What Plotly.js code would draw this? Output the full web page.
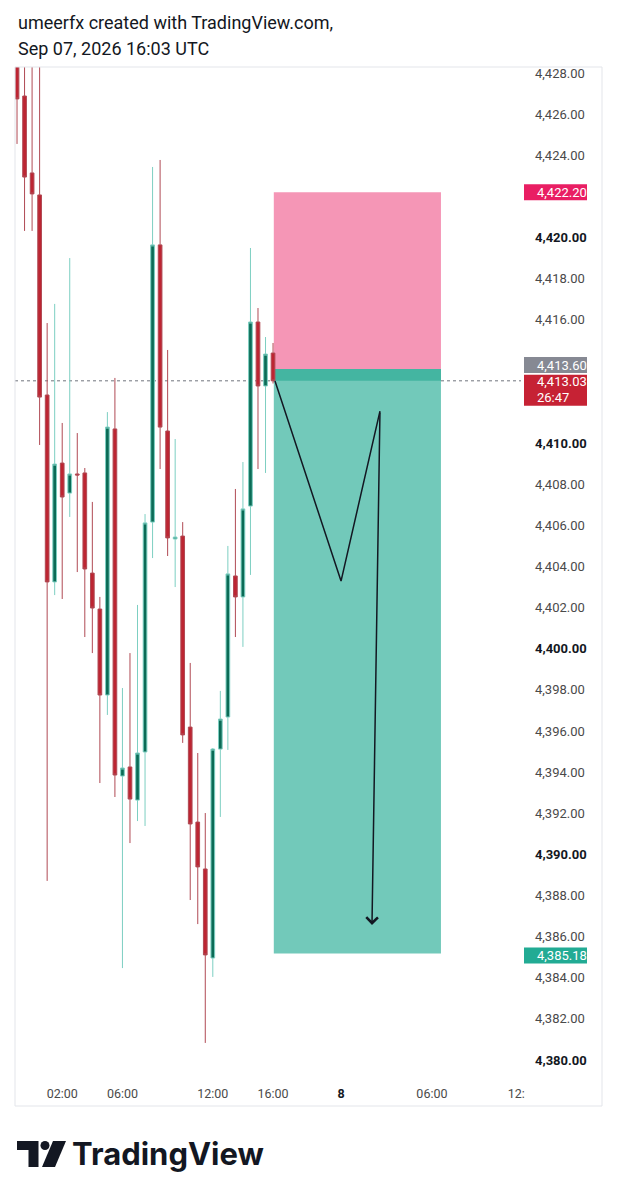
<!DOCTYPE html>
<html><head><meta charset="utf-8">
<script src="https://cdn.plot.ly/plotly-3.0.1.min.js"></script>
<style>html,body{margin:0;padding:0;background:#fff;} #chart{width:618px;height:1199px;}</style>
</head><body><div id="chart"></div>
<script>
// ---- data (30-minute bars, index 0 = 23:00 ... index 34 = 16:00) ----
const barIndex = [0,1,2,3,4,5,6,7,8,9,10,11,12,13,14,15,16,17,18,19,20,21,22,23,24,25,26,27,28,29,30,31,32,33,34];
const openPrices  = [4428.90,4426.88,4423.14,4422.07,4412.34,4403.25,4409.03,4407.57,4408.50,4408.55,4403.68,4401.93,4397.75,4410.69,4393.81,4394.25,4392.64,4394.98,4406.16,4419.64,4410.59,4405.34,4405.48,4396.19,4391.57,4389.29,4384.96,4395.12,4396.68,4403.54,4402.52,4406.94,4415.89,4412.78,4414.38];
const highPrices  = [4430.20,4429.80,4429.60,4429.00,4415.84,4416.77,4410.98,4419.00,4410.49,4408.79,4407.14,4402.52,4411.51,4413.17,4398.09,4399.79,4402.13,4406.55,4423.43,4423.77,4414.53,4410.20,4406.16,4399.31,4394.93,4392.01,4395.17,4397.95,4405.00,4407.77,4409.08,4419.49,4416.57,4415.16,4414.87];
const lowPrices   = [4424.55,4420.32,4420.32,4409.91,4388.71,4402.61,4402.42,4406.41,4403.73,4400.57,4399.79,4393.47,4396.78,4392.79,4384.47,4390.55,4391.62,4391.38,4404.41,4408.74,4404.51,4403.00,4395.42,4387.78,4386.61,4380.83,4384.04,4391.82,4395.08,4400.57,4400.09,4403.59,4408.74,4408.55,4412.90];
const closePrices = [4426.74,4422.94,4422.12,4412.24,4403.25,4408.98,4407.38,4408.50,4408.45,4403.88,4401.98,4397.75,4410.78,4393.86,4394.20,4392.69,4394.93,4406.12,4419.64,4410.78,4405.39,4405.43,4395.81,4391.48,4389.39,4385.11,4395.12,4396.58,4403.64,4402.52,4406.80,4415.89,4412.78,4414.33,4413.03];

const priceTicks = [4428,4426,4424,4420,4418,4416,4410,4408,4406,4404,4402,4400,4398,4396,4394,4392,4390,4388,4386,4384,4382,4380];
const boldPriceTicks = [4420,4410,4400,4390,4380];
const timeTickPos = [6,14,26,34,43.03,55.1,66.3];
const timeTickLabels = ["02:00","06:00","12:00","16:00","8","06:00","12:"];
const boldTimeLabels = ["8"];

const stopPrice = 4422.20;
const entryPrice = 4413.60;
const targetPrice = 4385.18;
const lastPrice = 4413.03;
const countdownText = "26:47";
const positionStart = 34.1, positionEnd = 56.3;
const drawingX = [34.26, 43.03, 48.2, 47.14];
const drawingY = [4413.02, 4403.29, 4411.56, 4386.57];

const headerLines = ["umeerfx created with TradingView.com,", "Sep 07, 2026 16:03 UTC"];
const brandText = "TradingView";

// ---- layout helpers ----
const W = 618, H = 1199, ML = 15, MR = 97, MT = 67, MB = 119;
const PW = W - ML - MR, PH = H - MT - MB;
const fx = px => (px - ML) / PW;
const fy = py => (H - MB - py) / PH;
const fmt = v => v.toLocaleString('en-US', {minimumFractionDigits: 2, maximumFractionDigits: 2});
const FONT = "Roboto, 'Noto Sans', sans-serif";

const priceText = priceTicks.map(v => boldPriceTicks.includes(v)
  ? '<span style="color:#131722"><b>' + fmt(v) + '</b></span>' : fmt(v));
const timeText = timeTickLabels.map(t => boldTimeLabels.includes(t)
  ? '<span style="color:#131722"><b>' + t + '</b></span>' : t);

const traces = [
  {
    type: 'candlestick', x: barIndex, open: openPrices, high: highPrices, low: lowPrices, close: closePrices,
    increasing: {line: {color: '#7dcfc2', width: 1}, fillcolor: '#0b6b56'},
    decreasing: {line: {color: '#b04a54', width: 1}, fillcolor: '#bd2532'},
    whiskerwidth: 0, hoverinfo: 'skip', showlegend: false
  },
  {
    type: 'scatter', mode: 'lines', x: drawingX.slice(0, 3), y: drawingY.slice(0, 3),
    line: {color: '#131722', width: 1.5}, hoverinfo: 'skip', showlegend: false
  }
];

const LOGO_Y = -10; // vertical shift of the logo block (px)
const shapes = [
  {type: 'rect', xref: 'x', yref: 'y', x0: positionStart, x1: positionEnd, y0: entryPrice, y1: stopPrice,
   fillcolor: '#f596b6', line: {width: 0}, layer: 'below'},
  {type: 'rect', xref: 'x', yref: 'y', x0: positionStart, x1: positionEnd, y0: targetPrice, y1: entryPrice,
   fillcolor: '#72c9ba', line: {width: 0}, layer: 'below'},
  {type: 'rect', xref: 'x', yref: 'y', x0: positionStart, x1: positionEnd, y0: lastPrice, y1: entryPrice,
   fillcolor: '#44b5a1', line: {width: 0}, layer: 'below'},
  {type: 'line', xref: 'paper', yref: 'y', x0: 0, x1: 1, y0: lastPrice, y1: lastPrice,
   line: {color: '#6f737d', width: 1, dash: 'dot'}, layer: 'below'},
  // chart frame
  {type: 'rect', xref: 'paper', yref: 'paper', x0: fx(15), x1: fx(602), y0: fy(1106), y1: fy(67),
   line: {color: '#e3e5ea', width: 1}, fillcolor: 'rgba(0,0,0,0)', layer: 'above'},
  // price-scale badges
  {type: 'rect', xref: 'paper', yref: 'y', ysizemode: 'pixel', yanchor: stopPrice, x0: fx(524), x1: fx(587), y0: -8, y1: 8,
   fillcolor: '#e91e63', line: {width: 0}},
  {type: 'rect', xref: 'paper', yref: 'y', ysizemode: 'pixel', yanchor: entryPrice, x0: fx(524), x1: fx(587), y0: -4, y1: 12,
   fillcolor: '#868993', line: {width: 0}},
  {type: 'rect', xref: 'paper', yref: 'y', ysizemode: 'pixel', yanchor: lastPrice, x0: fx(524), x1: fx(587), y0: -25, y1: 6,
   fillcolor: '#c62234', line: {width: 0}},
  {type: 'rect', xref: 'paper', yref: 'y', ysizemode: 'pixel', yanchor: targetPrice, x0: fx(524), x1: fx(587), y0: -10, y1: 6,
   fillcolor: '#22ab94', line: {width: 0}},
  // TradingView logo mark
  {type: 'path', xref: 'paper', yref: 'paper', layer: 'above', line: {width: 0}, fillcolor: '#131722',
   path: `M ${fx(17)} ${fy(1151+LOGO_Y)} L ${fx(38.5)} ${fy(1151+LOGO_Y)} L ${fx(38.5)} ${fy(1177+LOGO_Y)} L ${fx(28.5)} ${fy(1177+LOGO_Y)} L ${fx(28.5)} ${fy(1160+LOGO_Y)} L ${fx(17)} ${fy(1160+LOGO_Y)} Z`},
  {type: 'circle', xref: 'paper', yref: 'paper', layer: 'above', line: {width: 0}, fillcolor: '#131722',
   x0: fx(40.5), x1: fx(49.5), y0: fy(1160+LOGO_Y), y1: fy(1151+LOGO_Y)},
  {type: 'path', xref: 'paper', yref: 'paper', layer: 'above', line: {width: 0}, fillcolor: '#131722',
   path: `M ${fx(53)} ${fy(1151+LOGO_Y)} L ${fx(66)} ${fy(1151+LOGO_Y)} L ${fx(55)} ${fy(1177+LOGO_Y)} L ${fx(42)} ${fy(1177+LOGO_Y)} Z`}
];

const badgeFont = {family: FONT, size: 13, color: '#ffffff'};
const annotations = [
  {xref: 'paper', yref: 'paper', x: fx(16), y: fy(22), xanchor: 'left', yanchor: 'middle', showarrow: false,
   text: headerLines[0], font: {family: FONT, size: 18, color: '#131722'}},
  {xref: 'paper', yref: 'paper', x: fx(16), y: fy(49), xanchor: 'left', yanchor: 'middle', showarrow: false,
   text: headerLines[1], font: {family: FONT, size: 18, color: '#131722'}},
  {xref: 'paper', yref: 'paper', x: fx(70), y: fy(1163+LOGO_Y), xanchor: 'left', yanchor: 'middle', showarrow: false,
   text: '<b>' + brandText + '</b>', font: {family: "Inter, Roboto, sans-serif", size: 31, color: '#131722'}},
  {xref: 'paper', yref: 'y', x: fx(535), y: stopPrice, xanchor: 'left', yanchor: 'middle', showarrow: false, yshift: 0,
   text: fmt(stopPrice), font: badgeFont},
  {xref: 'paper', yref: 'y', x: fx(535), y: entryPrice, xanchor: 'left', yanchor: 'middle', showarrow: false, yshift: 4,
   text: fmt(entryPrice), font: badgeFont},
  {xref: 'paper', yref: 'y', x: fx(535), y: lastPrice, xanchor: 'left', yanchor: 'middle', showarrow: false, yshift: -1,
   text: fmt(lastPrice), font: badgeFont},
  {xref: 'paper', yref: 'y', x: fx(535), y: lastPrice, xanchor: 'left', yanchor: 'middle', showarrow: false, yshift: -17,
   text: countdownText, font: badgeFont},
  {xref: 'paper', yref: 'y', x: fx(535), y: targetPrice, xanchor: 'left', yanchor: 'middle', showarrow: false, yshift: -2,
   text: fmt(targetPrice), font: badgeFont},
  {xref: 'x', yref: 'y', x: drawingX[3], y: drawingY[3], axref: 'x', ayref: 'y', ax: drawingX[2], ay: drawingY[2],
   showarrow: true, arrowhead: 4, arrowsize: 1.5, arrowwidth: 1.5, arrowcolor: '#131722', text: ''}
];

const layout = {
  width: W, height: H,
  margin: {l: ML, r: MR, t: MT, b: MB, pad: 0},
  paper_bgcolor: '#ffffff', plot_bgcolor: '#ffffff',
  showlegend: false, hovermode: false, dragmode: false,
  font: {family: FONT, size: 12, color: '#4a4a4a'},
  xaxis: {
    type: 'linear', range: [-0.27, 66.93], rangeslider: {visible: false},
    showgrid: false, zeroline: false, showline: false, ticks: '',
    tickmode: 'array', tickvals: timeTickPos, ticktext: timeText,
    tickfont: {family: FONT, size: 12.5, color: '#4a4a4a'}, ticklabelstandoff: 4, fixedrange: true
  },
  yaxis: {
    side: 'right', range: [4379.027, 4428.292],
    showgrid: false, zeroline: false, showline: false, ticks: '',
    tickmode: 'array', tickvals: priceTicks, ticktext: priceText,
    tickfont: {family: FONT, size: 13, color: '#4a4a4a'}, ticklabelstandoff: 13, fixedrange: true
  },
  shapes: shapes,
  annotations: annotations
};

Plotly.newPlot('chart', traces, layout, {displayModeBar: false, staticPlot: true});
</script>
</body></html>
